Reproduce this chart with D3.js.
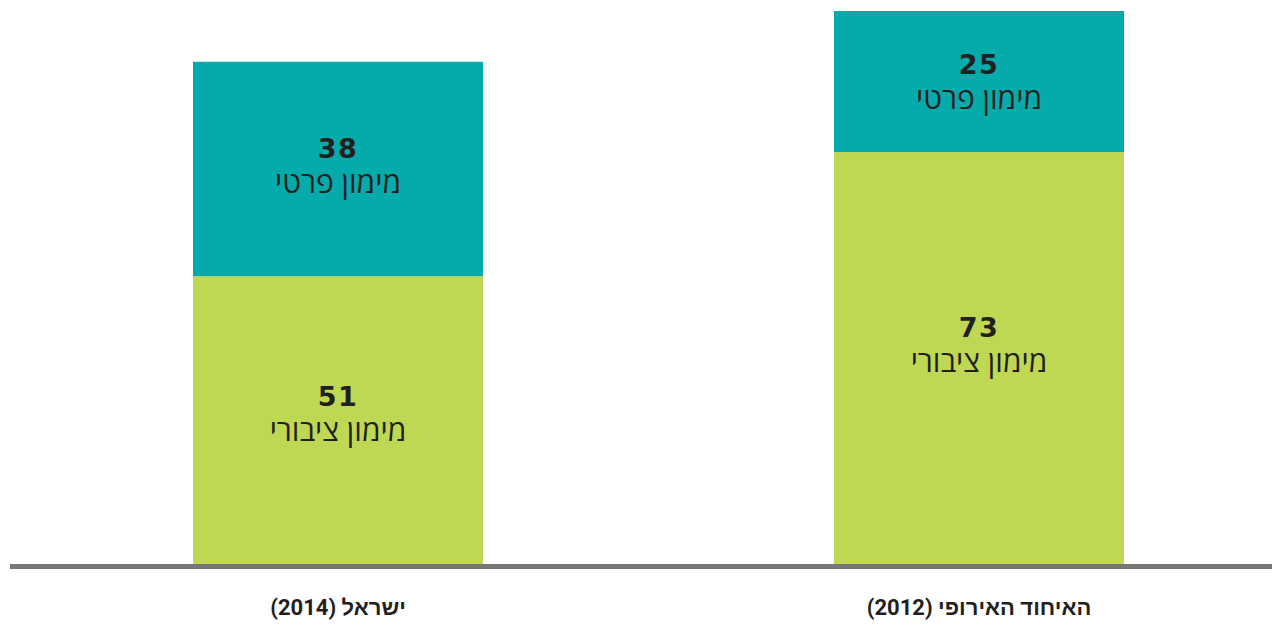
<!DOCTYPE html>
<html lang="he">
<head>
<meta charset="utf-8">
<script src="https://cdn.jsdelivr.net/npm/d3@7"></script>
<style>
    body { margin: 0; background: #fff; }
    svg { display: block; }
</style>
</head>
<body>
<svg id="chart" width="1273" height="625"></svg>
<script>
// categories (bottom labels) and the two stacked series
const categories = ["ישראל (2014)", "האיחוד האירופי (2012)"];
const publicFunding = [51, 73];
const privateFunding = [38, 25];
const seriesNames = ["מימון ציבורי", "מימון פרטי"];

const width = 1273;
const height = 625;
const baseline = 564;

const colours = {
    public: "#bfd853",
    private: "#05abab",
};

const svg = d3.select("#chart");

// band positions of the two columns
const x = d3
    .scaleBand()
    .domain(categories)
    .range([193, 1124])
    .paddingInner(0.5476)
    .paddingOuter(0);

// linear value scale, bar heights in px
const y = d3.scaleLinear().domain([0, 98]).range([baseline, baseline - 553]);

const rows = categories.map((c, i) => ({
    cat: c,
    public: publicFunding[i],
    private: privateFunding[i],
}));

const stack = d3.stack().keys(["public", "private"])(rows);

const layer = svg
    .append("g")
    .selectAll("g")
    .data(stack)
    .join("g")
    .attr("fill", (d) => colours[d.key]);

layer
    .selectAll("rect")
    .data((d) => d)
    .join("rect")
    .attr("x", (d) => x(d.data.cat))
    .attr("width", x.bandwidth())
    .attr("y", (d) => y(d[1]))
    .attr("height", (d) => y(d[0]) - y(d[1]));

// value + series labels inside each segment
stack.forEach((s, si) => {
    const g = svg.append("g");
    s.forEach((d) => {
        const top = y(d[1]);
        const h = y(d[0]) - y(d[1]);
        const cx = x(d.data.cat) + x.bandwidth() / 2;
        const ly = top + h * 0.45;
        g.append("text")
            .attr("x", cx)
            .attr("y", ly)
            .attr("text-anchor", "middle")
            .attr("font-family", "DejaVu Sans")
            .attr("font-weight", "bold")
            .attr("font-size", 27)
            .attr("letter-spacing", 1.5)
            .attr("fill", "#231f20")
            .text(d[1] - d[0]);
        g.append("text")
            .attr("x", cx)
            .attr("y", ly + 35)
            .attr("text-anchor", "middle")
            .attr("direction", "rtl")
            .attr("font-family", "Open Sans")
            .attr("font-size", 30)
            .attr("fill", "#231f20")
            .text(seriesNames[si]);
    });
});

// baseline
svg.append("line")
    .attr("x1", 10)
    .attr("x2", 1272)
    .attr("y1", baseline + 2.5)
    .attr("y2", baseline + 2.5)
    .attr("stroke", "#767676")
    .attr("stroke-width", 5);

// category labels
svg.append("g")
    .selectAll("text")
    .data(categories)
    .join("text")
    .attr("x", (d) => x(d) + x.bandwidth() / 2)
    .attr("y", 615)
    .attr("text-anchor", "middle")
    .attr("direction", "rtl")
    .attr("font-family", "Liberation Sans Narrow, Roboto, sans-serif")
    .attr("font-weight", "bold")
    .attr("font-size", 22)
    .attr("fill", "#231f20")
    .text((d) => d);
</script>
</body>
</html>
